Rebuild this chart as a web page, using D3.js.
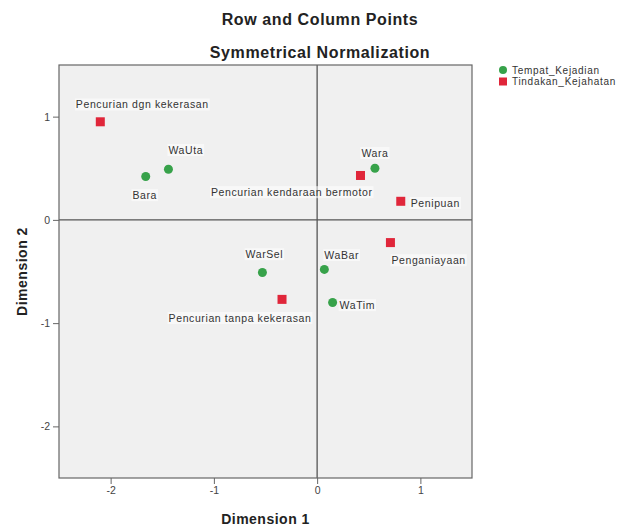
<!DOCTYPE html>
<html>
<head>
<meta charset="utf-8">
<script src="https://cdn.jsdelivr.net/npm/d3@7"></script>
<style>
body { margin: 0; background: white; }
text { font-family: "Liberation Sans", Arial, sans-serif; }
</style>
</head>
<body>
<div id="chart"></div>
<script>
var margin = {top: 65, right: 148, bottom: 48, left: 59}
var width = 413
var height = 413

// Data

var rowNames = ["Bara", "WaUta", "Wara", "WaBar", "WarSel", "WaTim"];
var rowDim1 = [-1.66, -1.44, 0.56, 0.07, -0.53, 0.15];
var rowDim2 = [0.42, 0.49, 0.50, -0.48, -0.51, -0.80];

var colNames = ["Pencurian dgn kekerasan", "Pencurian kendaraan bermotor", "Penipuan", "Penganiayaan", "Pencurian tanpa kekerasan"];
var colDim1 = [-2.10, 0.42, 0.81, 0.71, -0.34];
var colDim2 = [0.95, 0.43, 0.18, -0.22, -0.77];

var xTicks = [-2, -1, 0, 1];
var yTicks = [-2, -1, 0, 1];
var legendNames = ["Tempat_Kejadian", "Tindakan_Kejahatan"];

// label placement (pixels relative to point)
var labelPos = {
    "Bara": [-1, 19, "middle"],
    "WaUta": [0, -19, "start"],
    "Wara": [0, -15, "middle"],
    "WaBar": [0, -14, "start"],
    "WarSel": [2, -18, "middle"],
    "WaTim": [7, 3, "start"],
    "Pencurian dgn kekerasan": [42, -17, "middle"],
    "Pencurian kendaraan bermotor": [12, 17, "end"],
    "Penipuan": [10, 2, "start"],
    "Penganiayaan": [1, 18, "start"],
    "Pencurian tanpa kekerasan": [-42, 19, "middle"]
};

var green = "#37a24a";
var red = "#e0263a";

var x_scale = d3.scaleLinear().domain([-2.5, 1.5]).range([0, width]);
var y_scale = d3.scaleLinear().domain([-2.5, 1.5]).range([height, 0]);

var svg = d3.select("#chart")
    .append("svg")
    .attr("width", 620)
    .attr("height", 526)
    .style("background-color", "white");

// Titles

svg.append("text")
    .attr("x", 320).attr("y", 25)
    .attr("text-anchor", "middle")
    .style("font-size", "16px").style("font-weight", "bold").style("fill", "#222")
    .style("letter-spacing", "0.6px")
    .text("Row and Column Points");

svg.append("text")
    .attr("x", 320).attr("y", 58)
    .attr("text-anchor", "middle")
    .style("font-size", "16px").style("font-weight", "bold").style("fill", "#222")
    .style("letter-spacing", "0.6px")
    .text("Symmetrical Normalization");

var chart = svg.append("g")
    .attr("transform", "translate(" + margin.left + "," + margin.top + ")");

// Background and reference lines

chart.append("rect")
    .attr("width", width).attr("height", height)
    .style("fill", "#f0f0f0").style("stroke", "none");

chart.append("line")
    .attr("x1", x_scale(0)).attr("x2", x_scale(0))
    .attr("y1", 0).attr("y2", height)
    .style("stroke", "#555").style("stroke-width", 1.3);

chart.append("line")
    .attr("x1", 0).attr("x2", width)
    .attr("y1", y_scale(0)).attr("y2", y_scale(0))
    .style("stroke", "#555").style("stroke-width", 1.3);

chart.append("rect")
    .attr("width", width).attr("height", height)
    .style("fill", "none").style("stroke", "#666").style("stroke-width", 1.2);

// Axes

var fmt = function(d) { return String(d); };
var xAxis = d3.axisBottom(x_scale).tickValues(xTicks).tickFormat(fmt).tickSize(6).tickSizeOuter(0).tickPadding(3);
var yAxis = d3.axisLeft(y_scale).tickValues(yTicks).tickFormat(fmt).tickSize(6).tickSizeOuter(0).tickPadding(3);

var gx = chart.append("g")
    .attr("transform", "translate(0," + height + ")")
    .call(xAxis);
var gy = chart.append("g")
    .call(yAxis);

[gx, gy].forEach(function(g) {
    g.select(".domain").remove();
    g.selectAll(".tick line").style("stroke", "#666");
    g.selectAll(".tick text")
        .style("font-size", "10.5px")
        .style("fill", "#444")
        .style("font-family", "Liberation Sans, Arial, sans-serif");
});

svg.append("text")
    .attr("x", margin.left + width / 2).attr("y", 524)
    .attr("text-anchor", "middle")
    .style("font-size", "14px").style("font-weight", "bold").style("fill", "#222")
    .style("letter-spacing", "0.5px")
    .text("Dimension 1");

svg.append("text")
    .attr("transform", "translate(27," + (margin.top + height / 2) + ") rotate(-90)")
    .attr("text-anchor", "middle")
    .style("font-size", "14px").style("font-weight", "bold").style("fill", "#222")
    .style("letter-spacing", "0.5px")
    .text("Dimension 2");

// Labels

function addLabels(names, d1, d2) {
    var g = chart.append("g");
    names.forEach(function(name, i) {
        var p = labelPos[name];
        var t = g.append("text")
            .attr("x", x_scale(d1[i]) + p[0])
            .attr("y", y_scale(d2[i]) + p[1])
            .attr("dy", "0.35em")
            .attr("text-anchor", p[2])
            .style("font-size", "10.5px")
            .style("letter-spacing", "0.6px")
            .style("fill", "#333")
            .text(name);
        var bb = t.node().getBBox();
        g.insert("rect", "text")
            .attr("x", bb.x - 1).attr("y", bb.y)
            .attr("width", bb.width + 2).attr("height", bb.height)
            .style("fill", "white").style("opacity", 0.55);
    });
}

addLabels(rowNames, rowDim1, rowDim2);
addLabels(colNames, colDim1, colDim2);

// Points

chart.append("g")
    .selectAll("circle")
    .data(rowNames)
    .enter()
    .append("circle")
    .attr("cx", function(d, i) { return x_scale(rowDim1[i]); })
    .attr("cy", function(d, i) { return y_scale(rowDim2[i]); })
    .attr("r", 4.5)
    .style("fill", green);

chart.append("g")
    .selectAll("rect")
    .data(colNames)
    .enter()
    .append("rect")
    .attr("x", function(d, i) { return x_scale(colDim1[i]) - 4.5; })
    .attr("y", function(d, i) { return y_scale(colDim2[i]) - 4.5; })
    .attr("width", 9)
    .attr("height", 9)
    .style("fill", red);

// Legend

var legend = svg.append("g")
    .attr("transform", "translate(503,70)");

legend.selectAll("text")
    .data(legendNames)
    .enter()
    .append("text")
    .attr("x", 9)
    .attr("y", function(d, i) { return i * 11.5; })
    .attr("dy", "0.35em")
    .style("font-size", "10px")
    .style("letter-spacing", "0.7px")
    .style("fill", "#333")
    .text(function(d) { return d; });

legend.append("circle").attr("cx", 0).attr("cy", 0).attr("r", 4).style("fill", green);
legend.append("rect").attr("x", -4).attr("y", 11.5 - 4).attr("width", 8).attr("height", 8).style("fill", red);
</script>
</body>
</html>
